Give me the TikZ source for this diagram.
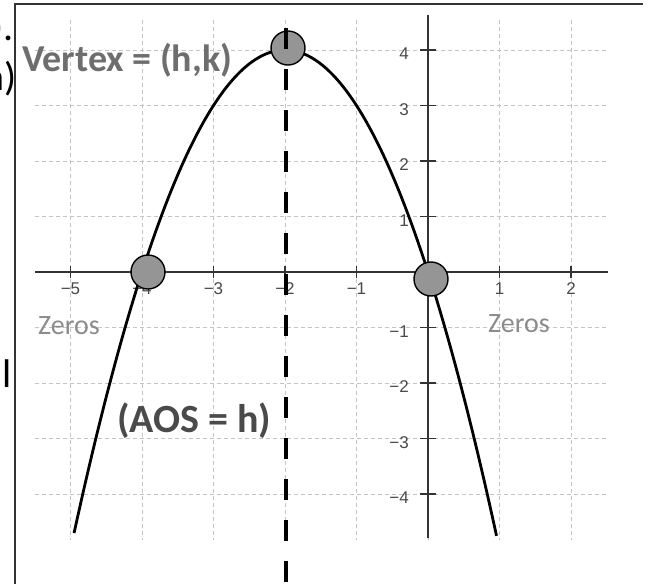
\documentclass[tikz,border=0pt]{standalone}
\usepackage{fontspec}
\setmainfont{Carlito}
\newfontfamily\ticksfont{Liberation Sans}
\definecolor{gridc}{HTML}{C4C4C4}
\definecolor{axisc}{HTML}{333333}
\definecolor{vtxc}{HTML}{6E6E6E}
\definecolor{aosc}{HTML}{4A4A4A}
\definecolor{zeroc}{HTML}{8C8C8C}
\definecolor{tickc}{HTML}{4A4A4A}
\definecolor{dotc}{HTML}{959595}
\tikzset{
  gridline/.style={gridc, line width=0.8pt, dash pattern=on 4pt off 3pt},
  axisline/.style={axisc, line width=1.6pt},
  tickmark/.style={axisc, line width=1.3pt},
  xlab/.style={font=\ticksfont\fontsize{17}{17}\selectfont, text=tickc, inner sep=0pt},
  ylab/.style={font=\ticksfont\fontsize{17}{17}\selectfont, text=tickc, inner sep=0pt, anchor=east},
  dotnode/.style={circle, draw=black, line width=1.4pt, fill=dotc, minimum size=34pt, inner sep=0pt},
  biglab/.style={font=\bfseries\fontsize{38}{38}\selectfont, inner sep=0pt, anchor=base west},
  zerolab/.style={font=\fontsize{28}{28}\selectfont, text=zeroc, inner sep=0pt, anchor=base west},
  fraglab/.style={font=\fontsize{40}{40}\selectfont, text=black, inner sep=0pt},
  aosline/.style={black, line width=4pt, dash pattern=on 21pt off 20pt},
  curve/.style={black, line width=2.8pt}
}
\begin{document}
\begin{tikzpicture}[x=71.5pt, y=55.5pt]
\useasboundingbox (-5.986,-5.604) rectangle (3.077,4.901);
\fill[white] (-5.986,-5.604) rectangle (3.077,4.901);
% cut-off text fragments at the left
\begin{scope}
\clip (-6.2,-5.7) rectangle (-5.748,5);
\node[fraglab, anchor=base east] (f1) at (-5.790,4.180) {).};
\node[fraglab, anchor=base east] (f2) at (-5.748,3.279) {h)};
\node[fraglab, anchor=base] (f3) at (-5.888,-2.072) {l};
\end{scope}
% frame
\draw[axisc, line width=1.5pt] (-5.776,-5.7) -- (-5.776,4.829) -- (3.007,4.829);
% grid
\foreach \i in {-5,...,2}{
  \draw[gridline] (\i,4.541) -- (\i,-4.829);
}
\foreach \j in {-4,...,4}{
  \draw[gridline] (-5.497,\j) -- (2.503,\j);
}
% axes
\draw[axisline] (-5.497,0) -- (2.517,0);
\draw[axisline] (0,4.631) -- (0,-4.793);
\foreach \i in {-5,-4,-3,-2,-1,1,2}{
  \draw[tickmark] (\i,0.11) -- (\i,-0.11);
}
\foreach \j in {-4,-3,-2,-1,1,2,3,4}{
  \draw[tickmark] (-0.112,\j) -- (0.112,\j);
}
% tick labels
\foreach \i/\t in {-5/−5,-4/−4,-3/−3,-2/−2,-1/−1,1/1,2/2}{
  \node[xlab] (xl\i) at (\i,-0.3) {\t};
}
\foreach \j/\t in {4/4,3/3,2/2,1/1,-1/−1,-2/−2,-3/−3,-4/−4}{
  \node[ylab] (yl\j) at (-0.266,\j-0.07) {\t};
}
% axis of symmetry
\draw[aosline] (-1.986,4.396) -- (-1.986,-5.604);
% parabola
\draw[curve] plot[domain=-4.95:0.96, samples=120, smooth] (\x,{-(\x)*(\x)-4*(\x)});
% points
\node[dotnode] (vtx) at (-1.958,4.036) {};
\node[dotnode] (z1) at (-3.916,0) {};
\node[dotnode] (z2) at (0.042,-0.126) {};
\draw[aosline] (-1.986,4.396) -- (-1.986,4.0);
% labels
\node[biglab, text=vtxc] (vlab) at (-5.678,3.604) {Vertex = (h,k)};
\node[biglab, text=aosc, font=\bfseries\fontsize{40}{40}\selectfont] (alab) at (-4.35,-2.883) {(AOS = h)};
\node[zerolab] (zl1) at (-5.455,-1.135) {Zeros};
\node[zerolab] (zl2) at (0.839,-1.081) {Zeros};
\end{tikzpicture}
\end{document}
